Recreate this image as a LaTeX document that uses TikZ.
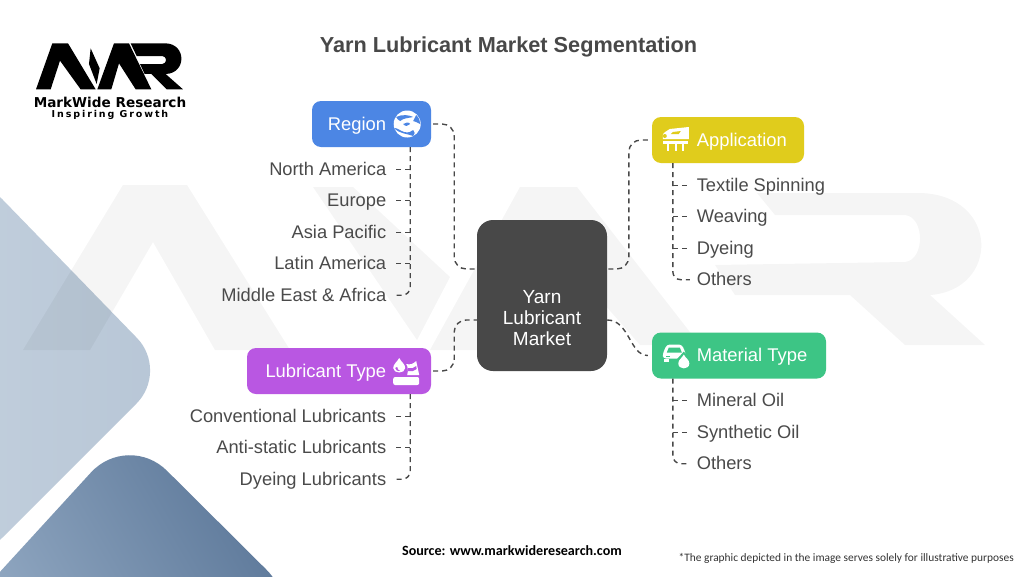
\documentclass[tikz,border=0pt]{standalone}
\usepackage{xcolor}
\usepackage{fontspec}
\usepackage{tikz}
\usetikzlibrary{positioning,calc}
\setmainfont{Liberation Sans}
\newfontfamily\brandfont{DejaVu Sans}
\newfontfamily\taglinefont[LetterSpace=20]{DejaVu Sans}
\newfontfamily\notefont{Carlito}
\definecolor{hubgrey}{HTML}{484848}
\definecolor{itemgrey}{HTML}{4A4A4A}
\definecolor{regionblue}{HTML}{4C86E4}
\definecolor{appyellow}{HTML}{E0CC1C}
\definecolor{matgreen}{HTML}{3DC585}
\definecolor{lubepurple}{HTML}{B957E2}
\definecolor{paleleft}{HTML}{CBD6E2}
\definecolor{paleright}{HTML}{B7C6D6}
\definecolor{deepleft}{HTML}{8FA6C0}
\definecolor{deepright}{HTML}{587496}
\tikzset{
    catbox/.style={
        rounded corners=9pt,
        minimum height=46pt,
        inner sep=0pt
    },
    catlabel/.style={
        text=white,
        inner sep=0pt,
        outer sep=0pt,
        text height=14pt,
        text depth=2pt,
        font=\fontsize{18.4}{21}\selectfont
    },
    item/.style={
        text=itemgrey,
        inner sep=0pt,
        outer sep=0pt,
        text height=14pt,
        text depth=2pt,
        font=\fontsize{18.3}{21}\selectfont
    },
    itemleft/.style={item, anchor=north east},
    itemright/.style={item, anchor=north west},
    tick/.style={dash pattern=on 5pt off 4pt, draw=hubgrey, line width=1.4pt},
    spine/.style={tick, rounded corners=8pt, shorten >=7pt},
    mainlink/.style={tick, rounded corners=12pt, shorten <=2pt},
    icon/.style={fill=white, draw=none}
}
\newcommand{\logoshape}[1]{
    \fill[#1] (6,148) -- (55,10) -- (102,10) -- (185,148) -- (140,148) -- (78,62) -- (50,148) -- cycle;
    \fill[#1] (170,25) -- (197,85) -- (188,132) -- (165,72) -- cycle;
    \fill[#1] (190,148) -- (240,10) -- (285,10) -- (352,148) -- (305,148) -- (255,70) -- (232,148) -- cycle;
    \fill[#1] (290,10) -- (395,10) .. controls (458,12) and (458,100) .. (395,102) -- (447,148) -- (398,148) -- (352,102) -- (332,102) -- (318,72) -- (385,72) .. controls (400,70) and (400,50) .. (385,48) -- (308,48) -- cycle;
}
\newcommand{\globeicon}[1]{
    \begin{scope}[shift={(#1)}]
        \fill[icon] (0,0) circle (13.5);
        \fill[regionblue] (-11,-7) .. controls (-5,-10) and (2,-9) .. (6,-7) .. controls (2,-6) and (-4,-6) .. (-7,-3) .. controls (-9,-4) and (-10,-5) .. (-11,-7) -- cycle;
        \fill[regionblue] (9,-9) .. controls (12,-6) and (13,-3) .. (13,0) .. controls (10,-1) and (8,-3) .. (6,-3) .. controls (7,-5) and (8,-7) .. (9,-9) -- cycle;
        \fill[regionblue] (-4,0) .. controls (-2,-2) and (2,-2) .. (3,0) .. controls (1,2) and (-2,3) .. (-4,0) -- cycle;
        \fill[regionblue] (-13,4) .. controls (-9,4) and (-7,7) .. (-3,8) .. controls (1,9) and (4,8) .. (6,6) .. controls (8,8) and (8,10) .. (6,12) .. controls (0,9.5) and (-8,10) .. (-13,4) -- cycle;
    \end{scope}
}
\newcommand{\lubeicon}[1]{
    \begin{scope}[shift={(#1)}]
        \fill[icon] (-7,-13) .. controls (-5,-9) and (-1,-7) .. (-1,-3) .. controls (-1,3) and (-13,3) .. (-13,-3) .. controls (-13,-7) and (-9,-9) .. (-7,-13) -- cycle;
        \fill[lubepurple] (-11,-3) .. controls (-11,0) and (-8,0) .. (-6,0) .. controls (-8,-1) and (-9,-2) .. (-9,-4) -- cycle;
        \fill[icon] (0,-7) .. controls (4,-6) and (7,-7) .. (10,-10) -- (13,4) -- (1,4) .. controls (2,0) and (2,-4) .. (0,-7) -- cycle;
        \fill[lubepurple] (2,-3) .. controls (5,-2) and (8,-3) .. (10,-5) -- (10.5,-2) .. controls (8,0) and (5,1) .. (2,0) -- cycle;
        \fill[icon, rounded corners=2pt] (-13,6) -- (13,6) -- (13,14) -- (-13,14) -- cycle;
    \end{scope}
}
\newcommand{\trainicon}[1]{
    \begin{scope}[shift={(#1)}]
        \fill[icon] (-6,-11) -- (13,-13) -- (13,-1) -- (-13,-1) -- (-13,-5) .. controls (-13,-7) and (-9,-9) .. (-6,-11) -- cycle;
        \fill[appyellow] (-3,-8) -- (5,-9) -- (3,-6) -- (-5,-6) -- cycle;
        \fill[appyellow] (-11,-4) circle (2);
        \fill[icon] (-13,1) rectangle (12,3.5);
        \fill[icon] (-9,3) rectangle (-7,11);
        \fill[icon] (-1,3) rectangle (1,11);
        \fill[icon] (6,3) rectangle (8,11);
    \end{scope}
}
\newcommand{\caricon}[1]{
    \begin{scope}[shift={(#1)}]
        \fill[icon, rounded corners=3pt] (-13,-2) -- (-9,-11) -- (6,-11) -- (10,-2) -- (10,3) -- (-13,3) -- cycle;
        \fill[matgreen] (-7,-8) -- (4,-8) -- (6,-3) -- (-9,-3) -- cycle;
        \fill[icon] (-12,3) rectangle (-7,6);
        \fill[matgreen] (-10,0) rectangle (-6,1.5);
        \fill[matgreen] (8,8) circle (8);
        \fill[matgreen] (8,-4) -- (15,4) -- (1,4) -- cycle;
        \fill[icon] (8,-1) .. controls (10,3) and (13.5,4) .. (13.5,8) .. controls (13.5,14.5) and (2.5,14.5) .. (2.5,8) .. controls (2.5,4) and (6,3) .. (8,-1) -- cycle;
    \end{scope}
}
\begin{document}
\begin{tikzpicture}[x=1pt,y=-1pt]
    \useasboundingbox (0,0) rectangle (1024,576);
    \clip (0,0) rectangle (1024,576);
    \fill[white] (0,0) rectangle (1024,576);

    \path[rounded corners=46pt, left color=paleleft, right color=paleright]
        (-30,166) -- (169,371) -- (-30,570) -- (-230,368) -- cycle;
    \path[rounded corners=55pt, left color=deepleft, right color=deepright, shading angle=120]
        (128,432) -- (305,608) -- (-45,621) -- cycle;

    \begin{scope}[fill=black, opacity=0.04]
        \fill (23,350) -- (123,185) -- (187,185) -- (290,350) -- (215,350) -- (153,242) -- (90,350) -- cycle;
        \fill (313,187) -- (353,187) -- (450,277) -- (417,340) -- cycle;
        \fill (430,350) -- (520,187) -- (577,187) -- (700,345) -- (640,345) -- (548,240) -- (500,350) -- cycle;
        \fill (757,193) -- (920,193) .. controls (1000,195) and (1000,290) .. (930,295) -- (985,345) -- (905,345) -- (850,295) -- (735,295) -- (715,265) -- (905,262) .. controls (925,260) and (925,217) .. (905,215) -- (775,215) -- cycle;
    \end{scope}

    \begin{scope}[shift={(34,40)}, x=0.3333pt, y=-0.3333pt]
        \logoshape{black}
    \end{scope}
    \node[inner sep=0pt, font=\brandfont\bfseries\fontsize{13.6}{15}\selectfont] (brand) at (110,102) {MarkWide Research};
    \node[inner sep=0pt, font=\taglinefont\bfseries\fontsize{9.5}{11}\selectfont] (tagline) at (110,114.5) {Inspiring Growth};

    \node[text=hubgrey, inner sep=0pt, font=\bfseries\fontsize{21.7}{24}\selectfont] (title) at (508.5,46.5) {Yarn Lubricant Market Segmentation};

    \node[fill=hubgrey, rounded corners=16pt, minimum width=130pt, minimum height=151pt, inner sep=0pt] (hub) at (542,295.5) {};
    \node[align=center, text=white, inner sep=0pt, font=\fontsize{19}{21}\selectfont] (hubtext) at ($(hub.center)+(0,23)$) {Yarn\\Lubricant\\Market};

    \node[catbox, fill=regionblue, minimum width=119pt] (region) at (371.5,124) {};
    \node[catbox, fill=appyellow, minimum width=152pt] (application) at (728,140) {};
    \node[catbox, fill=matgreen, minimum width=174pt] (material) at (739,355.5) {};
    \node[catbox, fill=lubepurple, minimum width=184pt] (lubetype) at (339,371) {};

    \node[catlabel, left=45pt of region.east] (regionlabel) {Region};
    \node[catlabel, right=45pt of application.west] (applabel) {Application};
    \node[catlabel, right=45pt of material.west] (matlabel) {Material Type};
    \node[catlabel, left=45pt of lubetype.east] (lubelabel) {Lubricant Type};

    \coordinate[left=24pt of region.east] (globepos);
    \coordinate[left=25pt of lubetype.east] (lubepos);
    \coordinate[right=24pt of application.west] (trainpos);
    \coordinate[right=24pt of material.west] (carpos);
    \globeicon{globepos}
    \lubeicon{lubepos}
    \trainicon{trainpos}
    \caricon{carpos}

    \node[itemleft, below=14pt of region.south east, anchor=north east, xshift=-45pt] (na) {North America};
    \node[itemleft, below=15.5pt of na.south east, anchor=north east] (eu) {Europe};
    \node[itemleft, below=15.5pt of eu.south east, anchor=north east] (ap) {Asia Pacific};
    \node[itemleft, below=15.5pt of ap.south east, anchor=north east] (la) {Latin America};
    \node[itemleft, below=15.5pt of la.south east, anchor=north east] (me) {Middle East \& Africa};

    \node[itemleft, below=14pt of lubetype.south east, anchor=north east, xshift=-45pt] (conv) {Conventional Lubricants};
    \node[itemleft, below=15.5pt of conv.south east, anchor=north east] (anti) {Anti-static Lubricants};
    \node[itemleft, below=15.5pt of anti.south east, anchor=north east] (dyelube) {Dyeing Lubricants};

    \node[itemright, below=14pt of application.south west, anchor=north west, xshift=45pt] (spin) {Textile Spinning};
    \node[itemright, below=15.5pt of spin.south west, anchor=north west] (weave) {Weaving};
    \node[itemright, below=15.5pt of weave.south west, anchor=north west] (dye) {Dyeing};
    \node[itemright, below=15.5pt of dye.south west, anchor=north west] (appother) {Others};

    \node[itemright, below=14pt of material.south west, anchor=north west, xshift=45pt] (mineral) {Mineral Oil};
    \node[itemright, below=15.5pt of mineral.south west, anchor=north west] (synth) {Synthetic Oil};
    \node[itemright, below=15.5pt of synth.south west, anchor=north west] (matother) {Others};

    \coordinate (regionspine) at ($(region.south east)+(-21,0)$);
    \coordinate (lubespine) at ($(lubetype.south east)+(-21,0)$);
    \coordinate (appspine) at ($(application.south west)+(21,0)$);
    \coordinate (matspine) at ($(material.south west)+(21,0)$);

    \draw[spine] (regionspine) |- (me.east);
    \draw[spine] (lubespine) |- (dyelube.east);
    \draw[spine] (appspine) |- (appother.west);
    \draw[spine] (matspine) |- (matother.west);

    \foreach \leaf in {na,eu,ap,la}
        \draw[tick, shorten >=8pt] (\leaf.east -| regionspine) -- (\leaf.east);
    \foreach \leaf in {conv,anti}
        \draw[tick, shorten >=8pt] (\leaf.east -| lubespine) -- (\leaf.east);
    \foreach \leaf in {spin,weave,dye}
        \draw[tick, shorten >=8pt] (\leaf.west -| appspine) -- (\leaf.west);
    \foreach \leaf in {mineral,synth}
        \draw[tick, shorten >=8pt] (\leaf.west -| matspine) -- (\leaf.west);

    \coordinate (regionport) at ($(hub.west)+(0,-26.5)$);
    \coordinate (lubeport) at ($(hub.west)+(0,24.5)$);
    \coordinate (appport) at ($(hub.east)+(0,-26.5)$);
    \coordinate (matport) at ($(hub.east)+(0,24.5)$);

    \draw[mainlink] (region.east) -- ++(23,0) |- (regionport);
    \draw[mainlink] (lubetype.east) -- ++(23,0) |- (lubeport);
    \draw[mainlink, shorten <=4pt] (application.west) -- ++(-23,0) |- (appport);
    \draw[tick, shorten >=4pt] (matport) to[out=0, in=180] (material.west);

    \node[inner sep=0pt, font=\notefont\bfseries\fontsize{14.1}{16}\selectfont] (source) at (512,551) {Source: www.markwideresearch.com};
    \node[inner sep=0pt, anchor=east, text=black!80, font=\notefont\fontsize{11.4}{14}\selectfont] (note) at (1014,558) {*The graphic depicted in the image serves solely for illustrative purposes};
\end{tikzpicture}
\end{document}
